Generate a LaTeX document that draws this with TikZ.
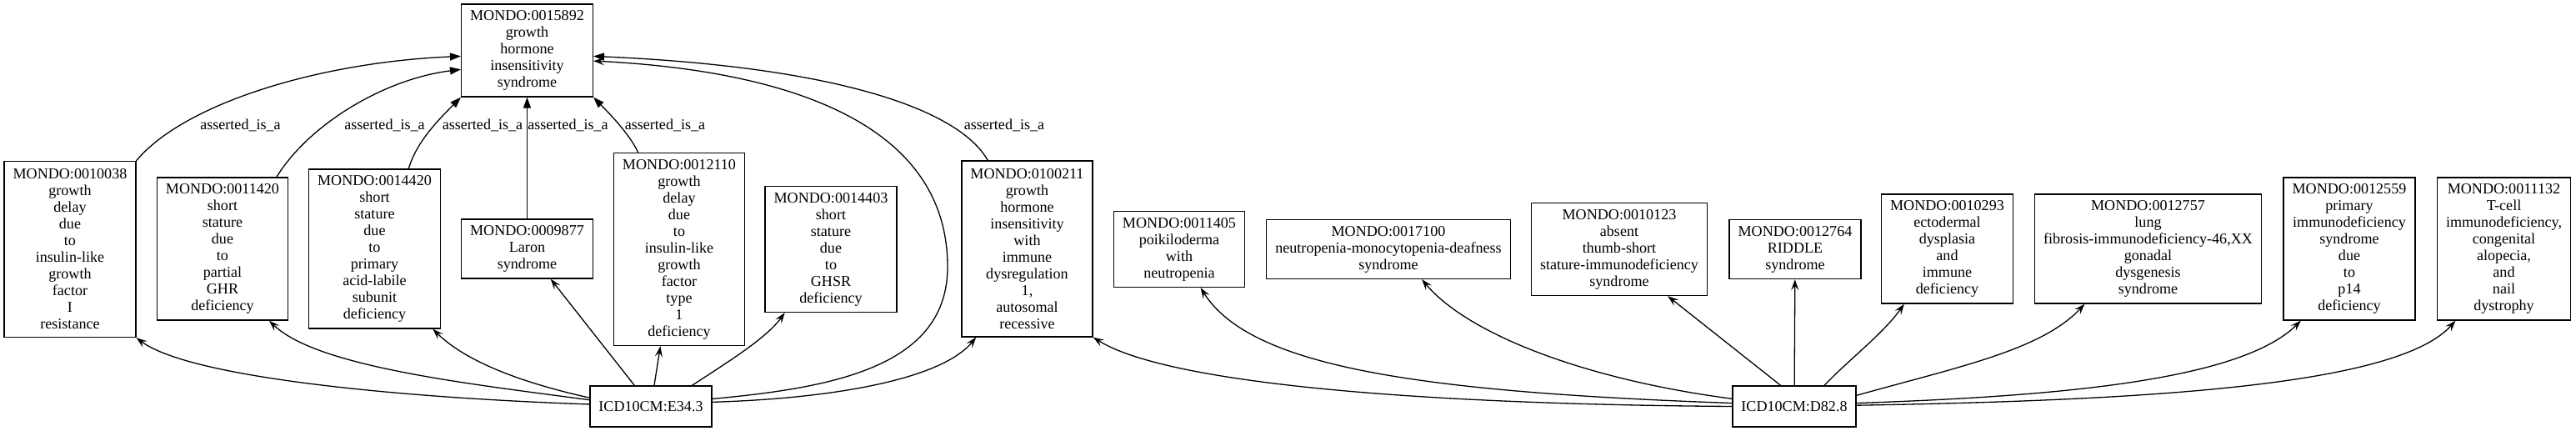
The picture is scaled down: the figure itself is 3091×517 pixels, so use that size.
\documentclass[tikz,border=0pt]{standalone}
\usepackage{fontspec}
\setmainfont{Liberation Serif}
\usetikzlibrary{arrows.meta}

\begin{document}
\begin{tikzpicture}[x=0.5pt, y=-0.5pt,
  term/.style={draw, line width=0.65pt, align=center, inner xsep=5.25pt, inner ysep=2pt,
    minimum width=35pt, font=\fontsize{9.05}{10}\selectfont},
  isa/.style={line width=0.65pt, -{Triangle[length=6.5pt, width=4.5pt]}},
  xref/.style={line width=0.65pt, -{Stealth[length=6.5pt, width=4.5pt, inset=2.6pt]}},
  rel/.style={font=\fontsize{9.05}{10}\selectfont, inner sep=0pt}]

  \useasboundingbox (0,0) rectangle (3091,517);

  % --- parent term ---
  \node[term, minimum height=55.5pt] (gh) at (632.5,60.5)
    {MONDO:0015892\\growth\\hormone\\insensitivity\\syndrome};

  % --- MONDO terms (row) ---
  \node[term, minimum height=105.5pt] (m10038) at (84,299)
    {MONDO:0010038\\growth\\delay\\due\\to\\insulin-like\\growth\\factor\\I\\resistance};
  \node[term, minimum height=85.5pt] (m11420) at (267,298.5)
    {MONDO:0011420\\short\\stature\\due\\to\\partial\\GHR\\deficiency};
  \node[term, minimum height=95.5pt] (m14420) at (449.5,298.5)
    {MONDO:0014420\\short\\stature\\due\\to\\primary\\acid-labile\\subunit\\deficiency};
  \node[term, minimum height=35.5pt] (m09877) at (632.5,298.5)
    {MONDO:0009877\\Laron\\syndrome};
  \node[term, minimum height=115.5pt] (m12110) at (815,299)
    {MONDO:0012110\\growth\\delay\\due\\to\\insulin-like\\growth\\factor\\type\\1\\deficiency};
  \node[term, minimum height=75.5pt] (m14403) at (997,299)
    {MONDO:0014403\\short\\stature\\due\\to\\GHSR\\deficiency};
  \node[term, minimum height=105.5pt] (m100211) at (1232.5,298.5)
    {MONDO:0100211\\growth\\hormone\\insensitivity\\with\\immune\\dysregulation\\1,\\autosomal\\recessive};
  \node[term, minimum height=45.5pt] (m11405) at (1415,299)
    {MONDO:0011405\\poikiloderma\\with\\neutropenia};
  \node[term, minimum height=35.5pt] (m17100) at (1666,299)
    {MONDO:0017100\\neutropenia-monocytopenia-deafness\\syndrome};
  \node[term, minimum height=55.5pt] (m10123) at (1943,299)
    {MONDO:0010123\\absent\\thumb-short\\stature-immunodeficiency\\syndrome};
  \node[term, minimum height=35.5pt] (m12764) at (2154,299)
    {MONDO:0012764\\RIDDLE\\syndrome};
  \node[term, minimum height=65.5pt] (m10293) at (2336.5,298.5)
    {MONDO:0010293\\ectodermal\\dysplasia\\and\\immune\\deficiency};
  \node[term, minimum height=65.5pt] (m12757) at (2577.5,298.5)
    {MONDO:0012757\\lung\\fibrosis-immunodeficiency-46,XX\\gonadal\\dysgenesis\\syndrome};
  \node[term, minimum height=85.5pt] (m12559) at (2819,298.5)
    {MONDO:0012559\\primary\\immunodeficiency\\syndrome\\due\\to\\p14\\deficiency};
  \node[term, minimum height=85.5pt] (m11132) at (3004.5,298.5)
    {MONDO:0011132\\T-cell\\immunodeficiency,\\congenital\\alopecia,\\and\\nail\\dystrophy};

  % --- ICD10CM codes ---
  \node[term, minimum height=24.5pt] (e343) at (781,487.5) {ICD10CM:E34.3};
  \node[term, minimum height=24.5pt] (d828) at (2153,487.5) {ICD10CM:D82.8};

  % --- asserted_is_a edges ---
  \draw[isa] (m10038.north east) .. controls (220,125) and (380,75) .. (gh.185);
  \draw[isa] (m11420.53) .. controls (370,150) and (460,95) .. (gh.196);
  \draw[isa] (m14420.67) .. controls (500,170) and (525,145) .. (gh.south west);
  \draw[isa] (m09877) -- (gh);
  \draw[isa] (m12110.113) .. controls (755,160) and (730,135) .. (gh.south east);
  \draw[isa] (m100211.114) .. controls (1150,130) and (1000,80) .. (gh.-5);

  \node[rel] (l1) at (288.5,150) {asserted\_is\_a};
  \node[rel] (l2) at (461.5,150) {asserted\_is\_a};
  \node[rel] (l3) at (579,150) {asserted\_is\_a};
  \node[rel] (l4) at (681.5,150) {asserted\_is\_a};
  \node[rel] (l5) at (798,150) {asserted\_is\_a};
  \node[rel] (l6) at (1205,150) {asserted\_is\_a};

  % --- ICD10CM:E34.3 edges ---
  \draw[xref] (e343.178) .. controls (500,478) and (230,455) .. (m10038.south east);
  \draw[xref] (e343.174) .. controls (560,460) and (380,440) .. (m11420.-57);
  \draw[xref] (e343.172) .. controls (630,460) and (560,435) .. (m14420.-54);
  \draw[xref] (e343.128) -- (m09877.-52);
  \draw[xref] (e343.81) -- (m12110.-101);
  \draw[xref] (e343.27) .. controls (880,430) and (920,405) .. (m14403.-126);
  \draw[xref] (e343.4) .. controls (1000,478) and (1130,455) .. (m100211.-120);
  \draw[xref] (e343.7) .. controls (1000,465) and (1137,440) .. (1137,320)
    .. controls (1137,150) and (950,85) .. (gh.-9);

  % --- ICD10CM:D82.8 edges ---
  \draw[xref] (d828.180) .. controls (1700,485) and (1400,460) .. (m100211.south east);
  \draw[xref] (d828.177) .. controls (1700,470) and (1500,440) .. (m11405.-61);
  \draw[xref] (d828.173) .. controls (1900,455) and (1760,400) .. (m17100.-42);
  \draw[xref] (d828.123) -- (m10123.-44);
  \draw[xref] (d828) -- (m12764);
  \draw[xref] (d828.35) .. controls (2220,430) and (2260,400) .. (m10293.-128);
  \draw[xref] (d828.10) .. controls (2350,440) and (2450,420) .. (m12757.-139);
  \draw[xref] (d828.3) .. controls (2480,475) and (2690,455) .. (m12559.-124);
  \draw[xref] (d828.1) .. controls (2600,480) and (2880,460) .. (m11132.-124);

\end{tikzpicture}
\end{document}
